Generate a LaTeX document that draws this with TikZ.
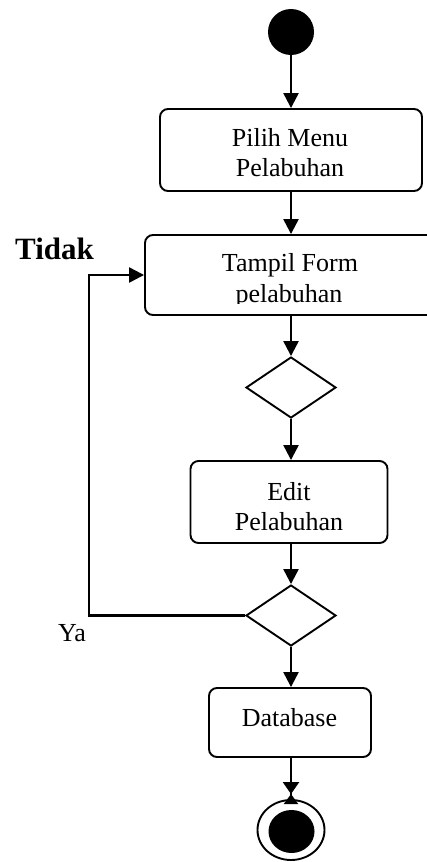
\documentclass[tikz,border=0pt]{standalone}
\usepackage{fontspec}
\setmainfont{Liberation Serif}
\usetikzlibrary{shapes.geometric,arrows.meta}
\begin{document}
\begin{tikzpicture}[x=1pt,y=-1pt,
  act/.style={draw, rounded corners=8pt, inner sep=0pt, line width=1.9pt},
  txt/.style={font=\fontsize{26}{30}\selectfont, anchor=base, inner sep=0pt},
  choice/.style={draw, diamond, inner sep=0pt, minimum width=90pt, minimum height=61pt, line width=1.9pt},
  flow/.style={line width=2.3pt, -{Triangle[width=15pt,length=15pt]}},
]
\useasboundingbox (0,0) rectangle (426,862);

% initial node
\node[circle, fill, minimum size=46pt, inner sep=0pt] (start) at (291,32) {};

% activities
\node[act, minimum width=262pt, minimum height=82pt] (pilih) at (291,150) {};
\node[txt] (pilihA) at (290,146) {Pilih Menu};
\node[txt] (pilihB) at (290,176.5) {Pelabuhan};

\node[act, minimum width=292pt, minimum height=80pt] (tampil) at (291,275) {};
\node[txt] (tampilA) at (290,271.5) {Tampil Form};
\begin{scope}
  \clip (140,235) rectangle (440,303.5);
  \node[txt] (tampilB) at (289,302) {pelabuhan};
\end{scope}

\node[choice] (d1) at (291,387.5) {};

\node[act, minimum width=197pt, minimum height=82pt] (edit) at (289,502) {};
\node[txt] (editA) at (289,500) {Edit};
\node[txt] (editB) at (289,530) {Pelabuhan};

\node[choice] (d2) at (291,615.5) {};

\node[act, minimum width=162pt, minimum height=69pt] (db) at (290,722.5) {};
\node[txt] (dbA) at (289.5,726) {Database};

% final node
\node[ellipse, draw, line width=1.9pt, minimum width=67pt, minimum height=60pt, inner sep=0pt] (fin) at (291,830) {};
\node[ellipse, fill, minimum width=46pt, minimum height=43pt, inner sep=0pt] (findot) at (291.5,831.5) {};

% guard labels
\node[font=\fontsize{31}{36}\selectfont\bfseries, anchor=base west, inner sep=0pt] (tidak) at (15,259) {Tidak};
\node[font=\fontsize{26}{30}\selectfont, anchor=base west, inner sep=0pt] (ya) at (58,641) {Ya};

% control flow, kept on the vertical axis through the initial node
\draw[flow] (start) -- (start |- pilih.north);
\draw[flow] (start |- pilih.south) -- (start |- tampil.north);
\draw[flow] (start |- tampil.south) -- (d1);
\draw[flow] (d1) -- (d1 |- edit.north);
\draw[flow] (d1 |- edit.south) -- (d2);
\draw[flow] (d2) -- (d2 |- db.north);
\coordinate (bend) at (89,615.5);
\draw[flow] (d2.west) -- (bend) |- (tampil.west);
\draw[line width=2.3pt, -{Triangle[width=16pt,length=12pt] Triangle[reversed,width=14pt,length=10pt]}]
  (d2 |- db.south) -- ([yshift=-5pt]fin.north);
\end{tikzpicture}
\end{document}
